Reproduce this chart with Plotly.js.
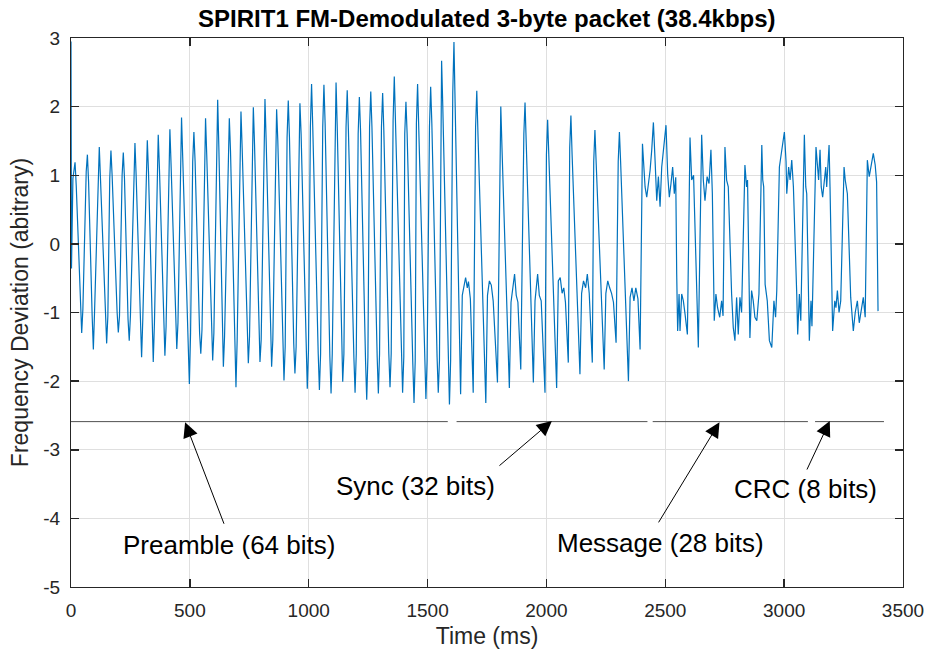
<!DOCTYPE html>
<html>
<head>
<meta charset="utf-8">
<script src="https://cdn.plot.ly/plotly-3.0.1.min.js"></script>
<style>
  html, body { margin: 0; padding: 0; background: #ffffff; }
  #chart { width: 925px; height: 649px; }
</style>
</head>
<body>
<div id="chart"></div>
<script>
// ---- Data (time in ms, deviation in arbitrary units) ----
// Preamble: 64 alternating bits
const preambleT = [0, 2, 8, 13, 17, 22, 40, 45, 50, 64, 69, 74, 89, 94, 99, 114, 119, 124, 145, 150, 155, 163, 168, 173, 194, 199, 204, 215, 220, 225, 240, 245, 250, 264, 269, 274, 292, 297, 302, 316, 321, 326, 341, 346, 351, 362, 367, 372, 390, 395, 400, 411, 416, 421, 440, 445, 450, 460, 465, 470, 493, 498, 503, 512, 517, 522, 541, 546, 551, 561, 566, 571, 591, 596, 601, 612, 617, 622, 636, 641, 646, 661, 666, 671, 689, 694, 699, 710, 715, 720, 741, 746, 751, 762, 767, 772, 790, 795, 800, 811, 816, 821, 839, 844, 849, 860, 865, 870, 891, 896, 901, 909, 914, 919, 937, 942, 947, 958, 963, 968, 989, 994, 999, 1007, 1012, 1017, 1040, 1045, 1050, 1059, 1064, 1069, 1089, 1094, 1099, 1110, 1115, 1120, 1138, 1143, 1148, 1157, 1162, 1167, 1190, 1195, 1200, 1208, 1213, 1218, 1239, 1244, 1249, 1256, 1261, 1266, 1288, 1293, 1298, 1306, 1311, 1316, 1337, 1342, 1347, 1355, 1360, 1365, 1390, 1395, 1400, 1404, 1409, 1414, 1438, 1443, 1448, 1453, 1458, 1463, 1488, 1493, 1498, 1508, 1513, 1518, 1540, 1545, 1550, 1555, 1559, 1564, 1587, 1592, 1597];
const preambleV = [2.95, -0.36, 0.95, 1.15, 1.19, 0.85, -1.0, -1.30, -0.95, 1.05, 1.30, 0.9, -1.05, -1.54, -1.0, 1.0, 1.41, 0.95, -1.1, -1.45, -1.05, 0.95, 1.36, 1.0, -1.0, -1.29, -1.05, 1.0, 1.33, 0.95, -1.1, -1.41, -1.05, 1.05, 1.47, 1.0, -1.1, -1.65, -1.1, 1.1, 1.51, 1.05, -1.15, -1.72, -1.15, 1.1, 1.59, 1.1, -1.15, -1.63, -1.2, 1.15, 1.67, 1.15, -1.2, -1.53, -1.15, 1.2, 1.84, 1.25, -1.3, -2.04, -1.3, 1.2, 1.63, 1.2, -1.3, -1.60, -1.25, 1.3, 1.83, 1.3, -1.3, -1.70, -1.3, 1.4, 2.10, 1.4, -1.35, -1.79, -1.35, 1.35, 1.83, 1.35, -1.45, -2.09, -1.4, 1.4, 1.93, 1.4, -1.35, -1.74, -1.35, 1.45, 1.99, 1.45, -1.35, -1.72, -1.4, 1.5, 2.11, 1.5, -1.4, -1.79, -1.4, 1.45, 1.96, 1.5, -1.5, -1.99, -1.5, 1.55, 2.09, 1.55, -1.45, -1.89, -1.5, 1.5, 2.05, 1.6, -1.6, -2.11, -1.55, 1.7, 2.33, 1.7, -1.6, -2.13, -1.6, 1.7, 2.32, 1.75, -1.65, -2.18, -1.6, 1.75, 2.35, 1.7, -1.55, -2.01, -1.6, 1.7, 2.24, 1.65, -1.65, -2.17, -1.6, 1.6, 2.14, 1.65, -1.7, -2.27, -1.65, 1.7, 2.22, 1.7, -1.65, -2.18, -1.6, 1.7, 2.20, 1.65, -1.6, -2.09, -1.6, 1.8, 2.44, 1.75, -1.65, -2.17, -1.65, 1.6, 2.07, 1.6, -1.75, -2.32, -1.7, 1.75, 2.33, 1.7, -1.7, -2.26, -1.7, 1.7, 2.29, 1.75, -1.65, -2.17, -1.7, 2.0, 2.67, 2.0, -1.75, -2.34, -1.7];

// Sync word: 32 bits (1000 repeated)
const syncT = [1606, 1611, 1616, 1639, 1646, 1652, 1660, 1667, 1672, 1680, 1692, 1702, 1707, 1712, 1745, 1752, 1760, 1768, 1776, 1794, 1804, 1808, 1813, 1844, 1851, 1858, 1866, 1873, 1880, 1892, 1905, 1910, 1915, 1945, 1952, 1958, 1963, 1970, 1978, 1994, 2000, 2005, 2010, 2043, 2050, 2058, 2066, 2073, 2080, 2092, 2098, 2103, 2108, 2141, 2148, 2156, 2165, 2172, 2180, 2193, 2199, 2204, 2209, 2243, 2250, 2258, 2266, 2274, 2282, 2293, 2302, 2307, 2312, 2345, 2352, 2360, 2368, 2376, 2385, 2394];
const syncV = [2.2, 2.94, 2.1, -2.19, -0.75, -0.64, -0.49, -0.64, -0.55, -0.80, -2.17, 1.7, 2.23, 1.6, -2.32, -0.75, -0.54, -0.6, -0.83, -2.02, 1.5, 2.0, 1.4, -2.10, -0.85, -0.69, -0.44, -0.75, -0.85, -1.83, 1.6, 2.06, 1.5, -2.02, -0.83, -0.54, -0.44, -0.75, -0.83, -2.17, 1.3, 1.81, 1.3, -2.10, -0.54, -0.49, -0.72, -0.64, -0.85, -1.73, 1.4, 1.87, 1.3, -1.90, -0.72, -0.54, -0.64, -0.44, -0.72, -1.73, 1.2, 1.66, 1.2, -1.83, -0.72, -0.54, -0.64, -0.72, -0.85, -1.44, 1.2, 1.63, 1.2, -2.0, -0.78, -0.64, -0.83, -0.64, -0.80, -1.54];

// Message (28 bits) and CRC (8 bits)
const payloadT = [2404, 2408, 2415, 2422, 2429, 2436, 2443, 2450, 2457, 2464, 2471, 2478, 2485, 2496, 2503, 2510, 2517, 2524, 2531, 2538, 2544, 2548, 2552, 2558, 2562, 2569, 2576, 2583, 2593, 2604, 2611, 2619, 2625, 2639, 2653, 2660, 2667, 2676, 2684, 2692, 2698, 2706, 2713, 2720, 2729, 2737, 2743, 2751, 2758, 2765, 2779, 2786, 2793, 2800, 2807, 2814, 2821, 2835, 2842, 2846, 2856, 2863, 2870, 2877, 2885, 2894, 2906, 2910, 2914, 2920, 2929, 2938, 2948, 2957, 2964, 2969, 2980, 2990, 3001, 3008, 3011, 3019, 3025, 3032, 3039, 3053, 3057, 3064, 3070, 3085, 3091, 3095, 3106, 3113, 3117, 3134, 3140, 3145, 3151, 3156, 3162, 3169, 3175, 3179, 3189, 3193, 3204, 3213, 3218, 3224, 3231, 3238, 3252, 3257, 3266, 3280, 3291, 3299, 3308, 3316, 3325, 3333, 3341, 3350, 3358, 3367, 3375, 3383, 3389, 3395];
const payloadV = [1.46, 1.22, 0.83, 0.68, 0.88, 1.07, 1.37, 1.77, 1.22, 0.63, 0.98, 0.54, 1.12, 1.46, 1.73, 1.02, 0.68, 0.88, 1.12, 0.73, 0.97, -0.44, -1.27, -0.73, -1.27, -0.73, -0.83, -1.02, -1.32, 1.55, 0.93, 1.0, 0.3, -1.51, 1.59, 0.93, 0.63, 0.98, 0.88, 1.37, 0.73, -1.12, -0.73, -0.93, -1.07, -0.83, -1.05, 1.41, 0.93, 0.83, -0.73, -1.22, -1.41, -0.78, -1.32, -0.78, -1.0, 1.15, 0.83, 0.93, -1.37, -0.68, -0.83, -1.07, -1.12, -0.73, 1.44, 0.93, 0.83, -0.59, -0.83, -1.41, -1.51, -0.83, -1.07, -0.68, 1.12, 1.37, 1.63, 1.2, 0.73, 1.12, 0.93, 1.22, 0.83, -0.73, -1.32, -0.73, -1.12, 1.59, 0.83, 0.73, -1.41, -0.83, -1.2, 1.41, 1.12, 0.93, 1.37, 0.83, 0.68, 0.98, 1.12, 0.83, 1.44, 0.83, -1.27, -0.83, -0.93, -0.68, -1.0, -0.83, 1.12, 0.93, 0.73, -0.78, -1.27, -1.0, -0.83, -1.15, -0.93, -0.78, -1.07, 1.22, 0.98, 1.2, 1.32, 1.15, 0.9, -0.98];

// Field marker line (segment start / end, ms) and its level
const fieldStart = [0, 1622, 2447, 3130];
const fieldEnd = [1585, 2425, 3100, 3420];
const fieldLevel = -2.59;

// Labels and arrows: text, text centre, arrow tail, arrow head
const labelText = ['Preamble (64 bits)', 'Sync (32 bits)', 'Message (28 bits)', 'CRC (8 bits)'];
const labelX = [665, 1451, 2478, 3088];
const labelY = [-4.39, -3.53, -4.36, -3.57];
const tailX = [646, 1796, 2468, 3093];
const tailY = [-4.10, -3.25, -4.08, -3.31];
const headX = [480, 2023, 2728, 3192];
const headY = [-2.60, -2.58, -2.60, -2.58];

const xTicks = [0, 500, 1000, 1500, 2000, 2500, 3000, 3500];
const yTicks = [-5, -4, -3, -2, -1, 0, 1, 2, 3];

// ---- Build traces ----
const sigT = preambleT.concat(syncT, payloadT);
const sigV = preambleV.concat(syncV, payloadV);

const lineX = [], lineY = [];
for (let i = 0; i < fieldStart.length; i++) {
  lineX.push(fieldStart[i], fieldEnd[i], null);
  lineY.push(fieldLevel, fieldLevel, null);
}

const traces = [
  { x: sigT, y: sigV, type: 'scatter', mode: 'lines',
    line: { color: '#0072BD', width: 1.2 }, hoverinfo: 'skip' },
  { x: lineX, y: lineY, type: 'scatter', mode: 'lines',
    line: { color: '#505050', width: 1 }, hoverinfo: 'skip', connectgaps: false }
];

const FONT = 'Liberation Sans, Arial, Helvetica, sans-serif';
const annotations = [];
for (let i = 0; i < labelText.length; i++) {
  annotations.push({
    x: headX[i], y: headY[i], xref: 'x', yref: 'y',
    ax: tailX[i], ay: tailY[i], axref: 'x', ayref: 'y',
    text: '', showarrow: true, arrowhead: 2, arrowsize: 3, arrowwidth: 1,
    arrowcolor: '#000000', standoff: 0, startstandoff: 0
  });
  annotations.push({
    x: labelX[i], y: labelY[i], xref: 'x', yref: 'y',
    text: labelText[i], showarrow: false, xanchor: 'center', yanchor: 'middle',
    font: { family: FONT, size: 26, color: '#000000' }
  });
}

const axisCommon = {
  showline: true, linecolor: '#262626', linewidth: 1, mirror: 'ticks',
  ticks: 'inside', ticklen: 8, tickwidth: 1.5, tickcolor: '#262626',
  showgrid: true, gridcolor: '#dfdfdf', gridwidth: 1, zeroline: false,
  tickfont: { family: FONT, size: 19, color: '#262626' }
};

const layout = {
  width: 925, height: 649,
  margin: { l: 71, r: 22, t: 38, b: 62 },
  paper_bgcolor: '#ffffff', plot_bgcolor: '#ffffff',
  showlegend: false,
  title: { text: '<b>SPIRIT1 FM-Demodulated 3-byte packet (38.4kbps)</b>',
           font: { family: FONT, size: 24, color: '#000000' },
           x: 0.5263, xanchor: 'center', y: 0.972, yanchor: 'middle' },
  xaxis: Object.assign({}, axisCommon, {
    range: [0, 3500], tickvals: xTicks, ticktext: xTicks.map(String),
    ticklabelstandoff: 6,
    title: { text: 'Time (ms)', font: { family: FONT, size: 23, color: '#262626' }, standoff: 8 }
  }),
  yaxis: Object.assign({}, axisCommon, {
    range: [-5, 3], tickvals: yTicks, ticktext: yTicks.map(String),
    ticklabelstandoff: 6,
    title: { text: 'Frequency Deviation (abitrary)', font: { family: FONT, size: 23, color: '#262626' }, standoff: 8 }
  }),
  annotations: annotations
};

Plotly.newPlot('chart', traces, layout, { displayModeBar: false, staticPlot: true });
</script>
</body>
</html>
